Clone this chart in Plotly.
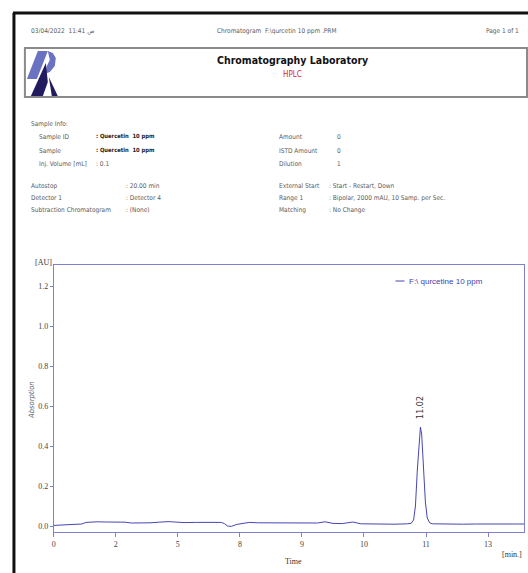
import plotly.graph_objects as go

W, H = 528, 573

# ---- data (x in axis positions, labels below) ----
tick_positions = [0, 1, 2, 3, 4, 5, 6, 7]
tick_labels = ["0", "2", "5", "8", "9", "10", "11", "13"]
y_ticks = [0.0, 0.2, 0.4, 0.6, 0.8, 1.0, 1.2]

time_pos = [0.00, 0.10, 0.20, 0.30, 0.40, 0.45, 0.52, 0.60, 0.70, 0.85, 1.00, 1.15, 1.25,
            1.40, 1.55, 1.70, 1.84, 1.95, 2.10, 2.30, 2.50, 2.70, 2.75, 2.80, 2.86, 2.95,
            3.05, 3.15, 3.30, 3.50, 3.70, 3.90, 4.10, 4.25, 4.37, 4.50, 4.65, 4.82, 4.95,
            5.10, 5.30, 5.50, 5.70, 5.76, 5.80, 5.83, 5.86, 5.89, 5.91, 5.93, 5.96, 5.99,
            6.02, 6.06, 6.10, 6.20, 6.40, 6.60, 6.80, 7.00, 7.20, 7.40, 7.58]
absorb = [0.003, 0.005, 0.006, 0.008, 0.009, 0.010, 0.018, 0.021, 0.021, 0.020, 0.020, 0.019, 0.015,
          0.014, 0.016, 0.019, 0.022, 0.020, 0.017, 0.018, 0.018, 0.018, 0.012, 0.000, -0.002, 0.008,
          0.013, 0.018, 0.016, 0.015, 0.014, 0.016, 0.014, 0.015, 0.021, 0.013, 0.012, 0.020, 0.011,
          0.010, 0.011, 0.009, 0.011, 0.013, 0.030, 0.10, 0.28, 0.45, 0.495, 0.46, 0.30, 0.12,
          0.04, 0.016, 0.011, 0.010, 0.011, 0.009, 0.010, 0.011, 0.010, 0.010, 0.010]

peak_time = 5.91
peak_height = 0.495
peak_label = "11.02"
series_name = "F:\\ qurcetine 10 ppm"

def px(x):
    return x / W

def py(y):
    return 1 - y / H

AX = "#8080d0"
TRACE = "#4646b4"
TXT = "#5a5a5a"
HF = "DejaVu Sans Condensed"
SF = "Liberation Serif"

fig = go.Figure()
fig.add_trace(go.Scatter(x=time_pos, y=absorb, mode="lines",
                         line=dict(color=TRACE, width=1), showlegend=False,
                         hoverinfo="skip"))

shapes = []
# page frame
shapes.append(dict(type="line", xref="paper", yref="paper", x0=px(12), x1=px(12), y0=py(13), y1=py(573),
                   line=dict(color="#111", width=3)))
shapes.append(dict(type="line", xref="paper", yref="paper", x0=px(11), x1=px(528), y0=py(13), y1=py(13),
                   line=dict(color="#111", width=3)))
# header box
shapes.append(dict(type="rect", xref="paper", yref="paper", x0=px(23), x1=px(527), y0=py(97), y1=py(48),
                   line=dict(color="#8a8a8a", width=2)))

def poly(points, color):
    d = "M " + " L ".join(f"{px(a)},{py(b)}" for a, b in points) + " Z"
    return dict(type="path", xref="paper", yref="paper", path=d, fillcolor=color,
                line=dict(width=0))

# logo
shapes.append(poly([(36, 51), (46, 51), (35, 79), (25, 79)], "#6a72c2"))
shapes.append(poly([(46, 51), (51, 53), (54, 58), (53, 66), (48, 72), (43, 74), (45, 66), (48, 60)], "#6a72c2"))
shapes.append(poly([(44, 63), (29, 96), (41, 96), (46, 82)], "#221c5e"))
shapes.append(poly([(47, 77), (50, 96), (56, 96)], "#221c5e"))
# legend line
shapes.append(dict(type="line", xref="paper", yref="paper", x0=px(395), x1=px(404), y0=py(281), y1=py(281),
                   line=dict(color=TRACE, width=1)))

ann = []
def t(x, y, s, size=6.5, color=TXT, anchor="left", font=HF, angle=0, bold=False):
    if bold:
        s = "<b>" + s + "</b>"
    ann.append(dict(xref="paper", yref="paper", x=px(x), y=py(y), text=s, showarrow=False,
                    xanchor=anchor, yanchor="middle", textangle=angle,
                    font=dict(size=size, color=color, family=font)))

t(27, 31, "03/04/2022  11:41 ص")
t(276, 31, "Chromatogram  F:\\qurcetin 10 ppm .PRM", anchor="center")
t(521, 31, "Page 1 of 1", anchor="right")
t(292, 60, "Chromatography Laboratory", size=10.5, color="#111", anchor="center", font=HF, bold=True)
t(292, 75, "HPLC", size=8, color="#d42a2a", anchor="center")

t(27, 124, "Sample Info:")
rows_left = [("Sample ID", ": Quercetin  10 ppm", True), ("Sample", ": Quercetin  10 ppm", True),
             ("Inj. Volume [mL]", ": 0.1", False)]
for i, (k, v, b) in enumerate(rows_left):
    yy = 137 + i * 13.5
    t(35, yy, k)
    t(92, yy, v, size=5.8 if b else 6.5, color="#222" if b else TXT, bold=b)
rows_right = [("Amount", "0"), ("ISTD Amount", "0"), ("Dilution", "1")]
for i, (k, v) in enumerate(rows_right):
    yy = 137 + i * 13.5
    t(276, yy, k)
    t(334, yy, v)
rows2_left = [("Autostop", ": 20.00 min"), ("Detector 1", ": Detector 4"),
              ("Subtraction Chromatogram", ": (None)")]
rows2_right = [("External Start", ": Start - Restart, Down"),
               ("Range 1", ": Bipolar, 2000 mAU, 10 Samp. per Sec."),
               ("Matching", ": No Change")]
for i, ((k1, v1), (k2, v2)) in enumerate(zip(rows2_left, rows2_right)):
    yy = 185.5 + i * 12.5
    t(27, yy, k1)
    t(122, yy, v1)
    t(276, yy, k2)
    t(326, yy, v2)

t(42, 262, "[AU]", size=8, color="#333", anchor="center", font=SF)
t(29, 400, "<i>Absorption</i>", size=7.5, color="#666", anchor="center", angle=-90, font=HF)
t(293, 561, "Time", size=8, color="#333", anchor="center", font=SF)
t(512, 554, "[min.]", size=8, color="#333", anchor="center", font=SF)
t(407, 281, series_name, size=8, color="#4040b0", font="Liberation Sans")

ann.append(dict(x=peak_time, y=peak_height, xref="x", yref="y", text=peak_label, showarrow=False,
                textangle=-90, yanchor="bottom", xanchor="center", yshift=6,
                font=dict(size=8, color="#333", family="DejaVu Sans")))

fig.update_layout(
    width=W, height=H, margin=dict(l=0, r=0, t=0, b=0),
    paper_bgcolor="white", plot_bgcolor="white",
    shapes=shapes, annotations=ann, showlegend=False,
    xaxis=dict(domain=[px(52), px(524)], range=[0, 7.58], tickvals=tick_positions, ticktext=tick_labels,
               showgrid=False, zeroline=False, showline=True, mirror=True, linecolor=AX, linewidth=1,
               ticks="outside", ticklen=4, tickcolor=AX,
               tickfont=dict(size=8, color="#444", family=SF)),
    yaxis=dict(domain=[py(532), py(265)], range=[-0.03, 1.305], tickvals=y_ticks, tickformat=".1f",
               showgrid=False, zeroline=False, showline=True, mirror=True, linecolor=AX, linewidth=1,
               ticks="outside", ticklen=3, tickcolor=AX,
               tickfont=dict(size=8, color="#444", family=SF)),
)

fig.write_html("out.html", config={"displayModeBar": False},
               post_script="document.body.style.margin='0';document.body.style.overflow='hidden';")
